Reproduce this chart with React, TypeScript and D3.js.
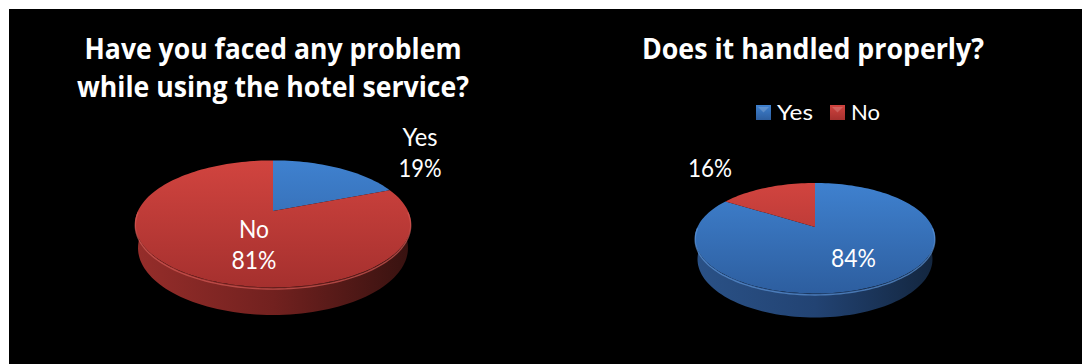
import React from "react";
import * as d3 from "d3";

// ---------- data ----------
const categories = ["Yes", "No"];
const chart1Values = [19, 81];
const chart2Values = [84, 16];
const chart1Title = ["Have you faced any problem", "while using the hotel service?"];
const chart2Title = ["Does it handled properly?"];

// ---------- styles / layout ----------
const W = 1082;
const H = 364;
const FONT = "'Open Sans', 'DejaVu Sans', sans-serif";
const LABEL_FONT = "Lato, 'Open Sans', sans-serif";
const TOP_COLORS = [
  ["#3f81cf", "#2d5e9f"], // Yes (blue)
  ["#d1443f", "#a5302e"], // No (red)
];
const WALL_COLORS = [
  ["#2a5186", "#224373", "#13263f"],
  ["#952d2a", "#72211f", "#381210"],
];
const RIM_COLORS = ["#5b93d6", "#d45a55"];

// 3D projection parameters (unit radius)
const DIST = 4.4;
const SIN_A = 0.451;
const COS_A = 0.893;
const DEPTH = 0.2;

type Pt = [number, number];

function makeProjector(cx: number, cy: number, S: number) {
  const f = S * DIST;
  return (theta: number, r: number, y: number): Pt => {
    const X = r * Math.sin(theta);
    const Z = r * Math.cos(theta);
    const py = y * COS_A + Z * SIN_A;
    const pz = -y * SIN_A + Z * COS_A + DIST;
    return [cx + (f * X) / pz, cy - (f * py) / pz];
  };
}

function arcPoints(proj: (t: number, r: number, y: number) => Pt, a0: number, a1: number, y: number): Pt[] {
  const n = Math.max(2, Math.ceil(((a1 - a0) / (2 * Math.PI)) * 180));
  return d3.range(n + 1).map((i) => proj(a0 + ((a1 - a0) * i) / n, 1, y));
}

const line = d3.line<Pt>().x((d) => d[0]).y((d) => d[1]);

interface LabelSpec {
  lines: (cat: string, v: number) => string[];
  inside: boolean;
  dx: number;
  dy: number;
  widths: number[];
}

interface PieSpec {
  id: string;
  values: number[];
  cx: number;
  cy: number;
  S: number;
  labels: LabelSpec[];
}

const pies: PieSpec[] = [
  {
    id: "p1",
    values: chart1Values,
    cx: 273,
    cy: 211,
    S: 135,
    labels: [
      { lines: (c, v) => [c, `${v}%`], inside: false, dx: 82, dy: -22, widths: [35, 43] },
      { lines: (c, v) => [c, `${v}%`], inside: true, dx: 27, dy: -4, widths: [30, 45] },
    ],
  },
  {
    id: "p2",
    values: chart2Values,
    cx: 815,
    cy: 227,
    S: 117.5,
    labels: [
      { lines: (c, v) => [`${v}%`], inside: true, dx: 4, dy: 12, widths: [45] },
      { lines: (c, v) => [`${v}%`], inside: false, dx: -57, dy: -11, widths: [44] },
    ],
  },
];

function Pie3D({ spec }: { spec: PieSpec }) {
  const proj = makeProjector(spec.cx, spec.cy, spec.S);
  const arcs = d3
    .pie<number>()
    .sort(null)
    .value((d) => d)
    .startAngle(0)
    .endAngle(2 * Math.PI)(spec.values);

  const visA0 = Math.PI / 2;
  const visA1 = (3 * Math.PI) / 2;
  const topY = proj(0, 1, 0)[1];
  const nearY = proj(Math.PI, 1, 0)[1];

  return (
    <g>
      <defs>
        {categories.map((_, i) => (
          <linearGradient key={"t" + i} id={`${spec.id}-top-${i}`} gradientUnits="userSpaceOnUse" x1={0} y1={topY} x2={0} y2={nearY}>
            <stop offset="0" stopColor={TOP_COLORS[i][0]} />
            <stop offset="1" stopColor={TOP_COLORS[i][1]} />
          </linearGradient>
        ))}
        {categories.map((_, i) => (
          <linearGradient key={"w" + i} id={`${spec.id}-wall-${i}`} gradientUnits="userSpaceOnUse" x1={spec.cx - spec.S} y1={0} x2={spec.cx + spec.S} y2={0}>
            <stop offset="0" stopColor={WALL_COLORS[i][0]} />
            <stop offset="0.5" stopColor={WALL_COLORS[i][1]} />
            <stop offset="1" stopColor={WALL_COLORS[i][2]} />
          </linearGradient>
        ))}
      </defs>
      {/* side walls */}
      {arcs.map((a, i) => {
        const a0 = Math.max(a.startAngle, visA0);
        const a1 = Math.min(a.endAngle, visA1);
        if (a1 <= a0) return null;
        const top = arcPoints(proj, a0, a1, 0);
        const bot = arcPoints(proj, a0, a1, -DEPTH).reverse();
        return <path key={"wall" + i} d={line([...top, ...bot])! + "Z"} fill={`url(#${spec.id}-wall-${i})`} />;
      })}
      {/* top faces */}
      {arcs.map((a, i) => {
        const pts: Pt[] = [[spec.cx, spec.cy], ...arcPoints(proj, a.startAngle, a.endAngle, 0)];
        return <path key={"top" + i} d={line(pts)! + "Z"} fill={`url(#${spec.id}-top-${i})`} />;
      })}
      {/* rim highlight */}
      {arcs.map((a, i) => {
        const a0 = Math.max(a.startAngle, visA0);
        const a1 = Math.min(a.endAngle, visA1);
        if (a1 <= a0) return null;
        return <path key={"rim" + i} d={line(arcPoints(proj, a0, a1, -0.012))!} fill="none" stroke={RIM_COLORS[i]} strokeWidth={1.4} strokeOpacity={0.7} />;
      })}
      {/* labels */}
      {arcs.map((a, i) => {
        const lab = spec.labels[i];
        const mid = (a.startAngle + a.endAngle) / 2;
        const anchor = proj(mid, lab.inside ? 0.55 : 1, 0);
        const texts = lab.lines(categories[i], spec.values[i]);
        const x = anchor[0] + lab.dx;
        return (
          <g key={"lab" + i}>
            {texts.map((t, j) => (
              <text
                key={j}
                x={x}
                y={anchor[1] + lab.dy + j * 31.5}
                textAnchor="middle"
                fill="#ffffff"
                fontFamily={LABEL_FONT}
                fontSize={25}
                textLength={lab.widths[j]}
                lengthAdjust="spacingAndGlyphs"
              >
                {t}
              </text>
            ))}
          </g>
        );
      })}
    </g>
  );
}

export default function App() {
  const legendX = [756, 830];
  const legendTextW = [36, 29];
  return (
    <svg width={W} height={H} style={{ position: "absolute", left: 0, top: 0, display: "block", background: "#ffffff" }}>
      <defs>
        {categories.map((_, i) => (
          <linearGradient key={i} id={`leg-${i}`} x1="0" y1="0" x2="0" y2="1">
            <stop offset="0" stopColor={TOP_COLORS[i][0]} />
            <stop offset="1" stopColor={TOP_COLORS[i][1]} />
          </linearGradient>
        ))}
      </defs>
      <rect x={9} y={9} width={W - 9} height={H - 9} fill="#000000" />

      {/* titles */}
      {chart1Title.map((t, j) => (
        <text key={"t1" + j} x={273} y={59 + j * 38} textAnchor="middle" fill="#ffffff" fontFamily={FONT} fontWeight="bold" fontSize={28} textLength={j === 0 ? 377 : 392} lengthAdjust="spacingAndGlyphs">
          {t}
        </text>
      ))}
      {chart2Title.map((t, j) => (
        <text key={"t2" + j} x={813} y={59} textAnchor="middle" fill="#ffffff" fontFamily={FONT} fontWeight="bold" fontSize={28} textLength={342} lengthAdjust="spacingAndGlyphs">
          {t}
        </text>
      ))}

      {/* legend for chart 2 */}
      {categories.map((c, i) => (
        <g key={"leg" + i}>
          <rect x={legendX[i]} y={105} width={15} height={15} fill={`url(#leg-${i})`} />
          <path d={`M${legendX[i] + 2},${107} L${legendX[i] + 13},${107} L${legendX[i] + 7.5},${112.5} Z`} fill="#ffffff" fillOpacity={0.18} />
          <text x={legendX[i] + 21} y={120} fill="#ffffff" fontFamily={LABEL_FONT} fontSize={21} textLength={legendTextW[i]} lengthAdjust="spacingAndGlyphs">
            {c}
          </text>
        </g>
      ))}

      {pies.map((p) => (
        <Pie3D key={p.id} spec={p} />
      ))}
    </svg>
  );
}
